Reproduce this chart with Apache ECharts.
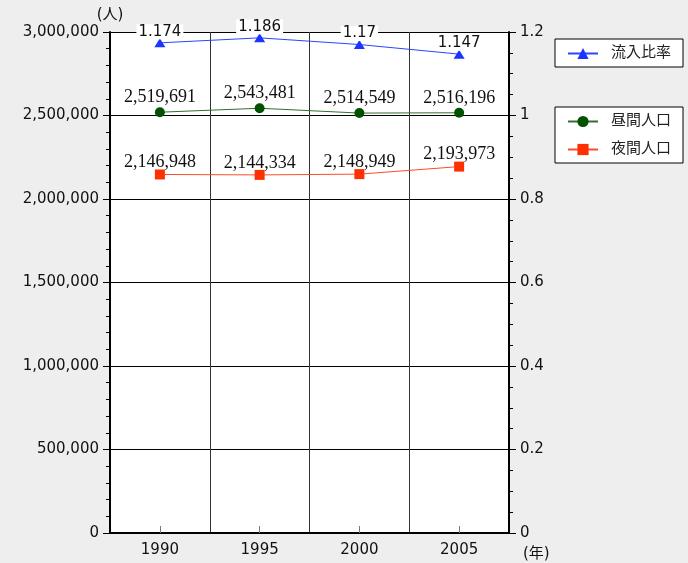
<!DOCTYPE html>
<html>
<head>
<meta charset="utf-8">
<script src="https://cdn.jsdelivr.net/npm/echarts@6/dist/echarts.min.js"></script>
<style>
  html, body { margin: 0; padding: 0; background: #eeeeee; }
  #chart { width: 688px; height: 563px; }
</style>
</head>
<body>
<div id="chart"></div>
<script>
// Census years
const years = ['1990', '1995', '2000', '2005'];
// Daytime population (persons)
const dayPopulation = [2519691, 2543481, 2514549, 2516196];
// Night-time (resident) population (persons)
const nightPopulation = [2146948, 2144334, 2148949, 2193973];
// Inflow ratio = daytime / night-time population
const inflowRatio = [1.174, 1.186, 1.17, 1.147];

const SANS = 'DejaVu Sans, Noto Sans CJK JP, sans-serif';
const SERIF = 'Liberation Serif, DejaVu Serif, serif';

function withCommas(v) {
  return String(v).replace(/\B(?=(\d{3})+(?!\d))/g, ',');
}

const chart = echarts.init(document.getElementById('chart'));

const legendBox = {
  orient: 'vertical',
  left: 555,
  padding: [7, 12, 6, 12],
  itemWidth: 30, itemHeight: 14, itemGap: 13,
  backgroundColor: '#ffffff', borderColor: '#000000', borderWidth: 1,
  textStyle: { fontFamily: SANS, fontSize: 15, color: '#222', padding: [0, 0, 0, 8] }
};

chart.setOption({
  backgroundColor: '#eeeeee',
  animation: false,
  grid: {
    left: 110, right: 179, top: 32, bottom: 30,
    show: true, backgroundColor: '#ffffff', borderWidth: 0
  },
  legend: [
    Object.assign({}, legendBox, { data: ['流入比率'], top: 39 }),
    Object.assign({}, legendBox, { data: ['昼間人口', '夜間人口'], top: 107 })
  ],
  xAxis: {
    type: 'category',
    data: years,
    boundaryGap: true,
    name: '(年)',
    nameLocation: 'end',
    nameGap: 14,
    nameTextStyle: { fontFamily: SANS, fontSize: 15, color: '#111', verticalAlign: 'top', padding: [14, 0, 0, 0] },
    axisLine: { lineStyle: { color: '#000', width: 2 } },
    axisTick: { show: true, inside: true, alignWithLabel: true, length: 7, lineStyle: { color: '#777' } },
    axisLabel: { fontFamily: SANS, fontSize: 15, color: '#111', margin: 10 },
    splitLine: { show: true, interval: 0, lineStyle: { color: '#333', width: 1 } }
  },
  yAxis: [
    {
      type: 'value',
      min: 0, max: 3000000, interval: 500000,
      name: '(人)',
      nameLocation: 'end',
      nameGap: 9,
      nameTextStyle: { fontFamily: SANS, fontSize: 15, color: '#111', align: 'center' },
      axisLine: { show: true, lineStyle: { color: '#000', width: 2 } },
      axisTick: { show: true, length: 7, lineStyle: { color: '#000' } },
      minorTick: { show: true, splitNumber: 5, length: 4, lineStyle: { color: '#000' } },
      axisLabel: { fontFamily: SANS, fontSize: 15, color: '#111', margin: 11, formatter: withCommas },
      splitLine: { show: true, lineStyle: { color: '#000', width: 1 } }
    },
    {
      type: 'value',
      min: 0, max: 1.2, interval: 0.2,
      axisLine: { show: true, lineStyle: { color: '#000', width: 2 } },
      axisTick: { show: true, length: 7, lineStyle: { color: '#000' } },
      minorTick: { show: true, splitNumber: 4, length: 4, lineStyle: { color: '#000' } },
      axisLabel: { fontFamily: SANS, fontSize: 15, color: '#111', margin: 11 },
      splitLine: { show: false }
    }
  ],
  series: [
    {
      name: '流入比率',
      type: 'line',
      yAxisIndex: 1,
      data: inflowRatio,
      symbol: 'triangle',
      symbolSize: [11, 9],
      lineStyle: { color: '#2a45ff', width: 1 },
      itemStyle: { color: '#1a35ff' },
      label: {
        show: true, position: 'top', distance: -1,
        fontFamily: SANS, fontSize: 15, color: '#111',
        backgroundColor: '#ffffff', padding: [0, 2]
      },
      z: 4
    },
    {
      name: '昼間人口',
      type: 'line',
      yAxisIndex: 0,
      data: dayPopulation,
      symbol: 'circle',
      symbolSize: 10,
      lineStyle: { color: '#2f6f2f', width: 1 },
      itemStyle: { color: '#005200' },
      label: {
        show: true, position: 'top', distance: 1,
        fontFamily: SERIF, fontSize: 18, color: '#111',
        formatter: p => withCommas(p.value)
      },
      z: 3
    },
    {
      name: '夜間人口',
      type: 'line',
      yAxisIndex: 0,
      data: nightPopulation,
      symbol: 'rect',
      symbolSize: 10,
      lineStyle: { color: '#ff4a2a', width: 1 },
      itemStyle: { color: '#ff3000' },
      label: {
        show: true, position: 'top', distance: -2,
        fontFamily: SERIF, fontSize: 18, color: '#111',
        formatter: p => withCommas(p.value)
      },
      z: 3
    }
  ]
});
</script>
</body>
</html>
